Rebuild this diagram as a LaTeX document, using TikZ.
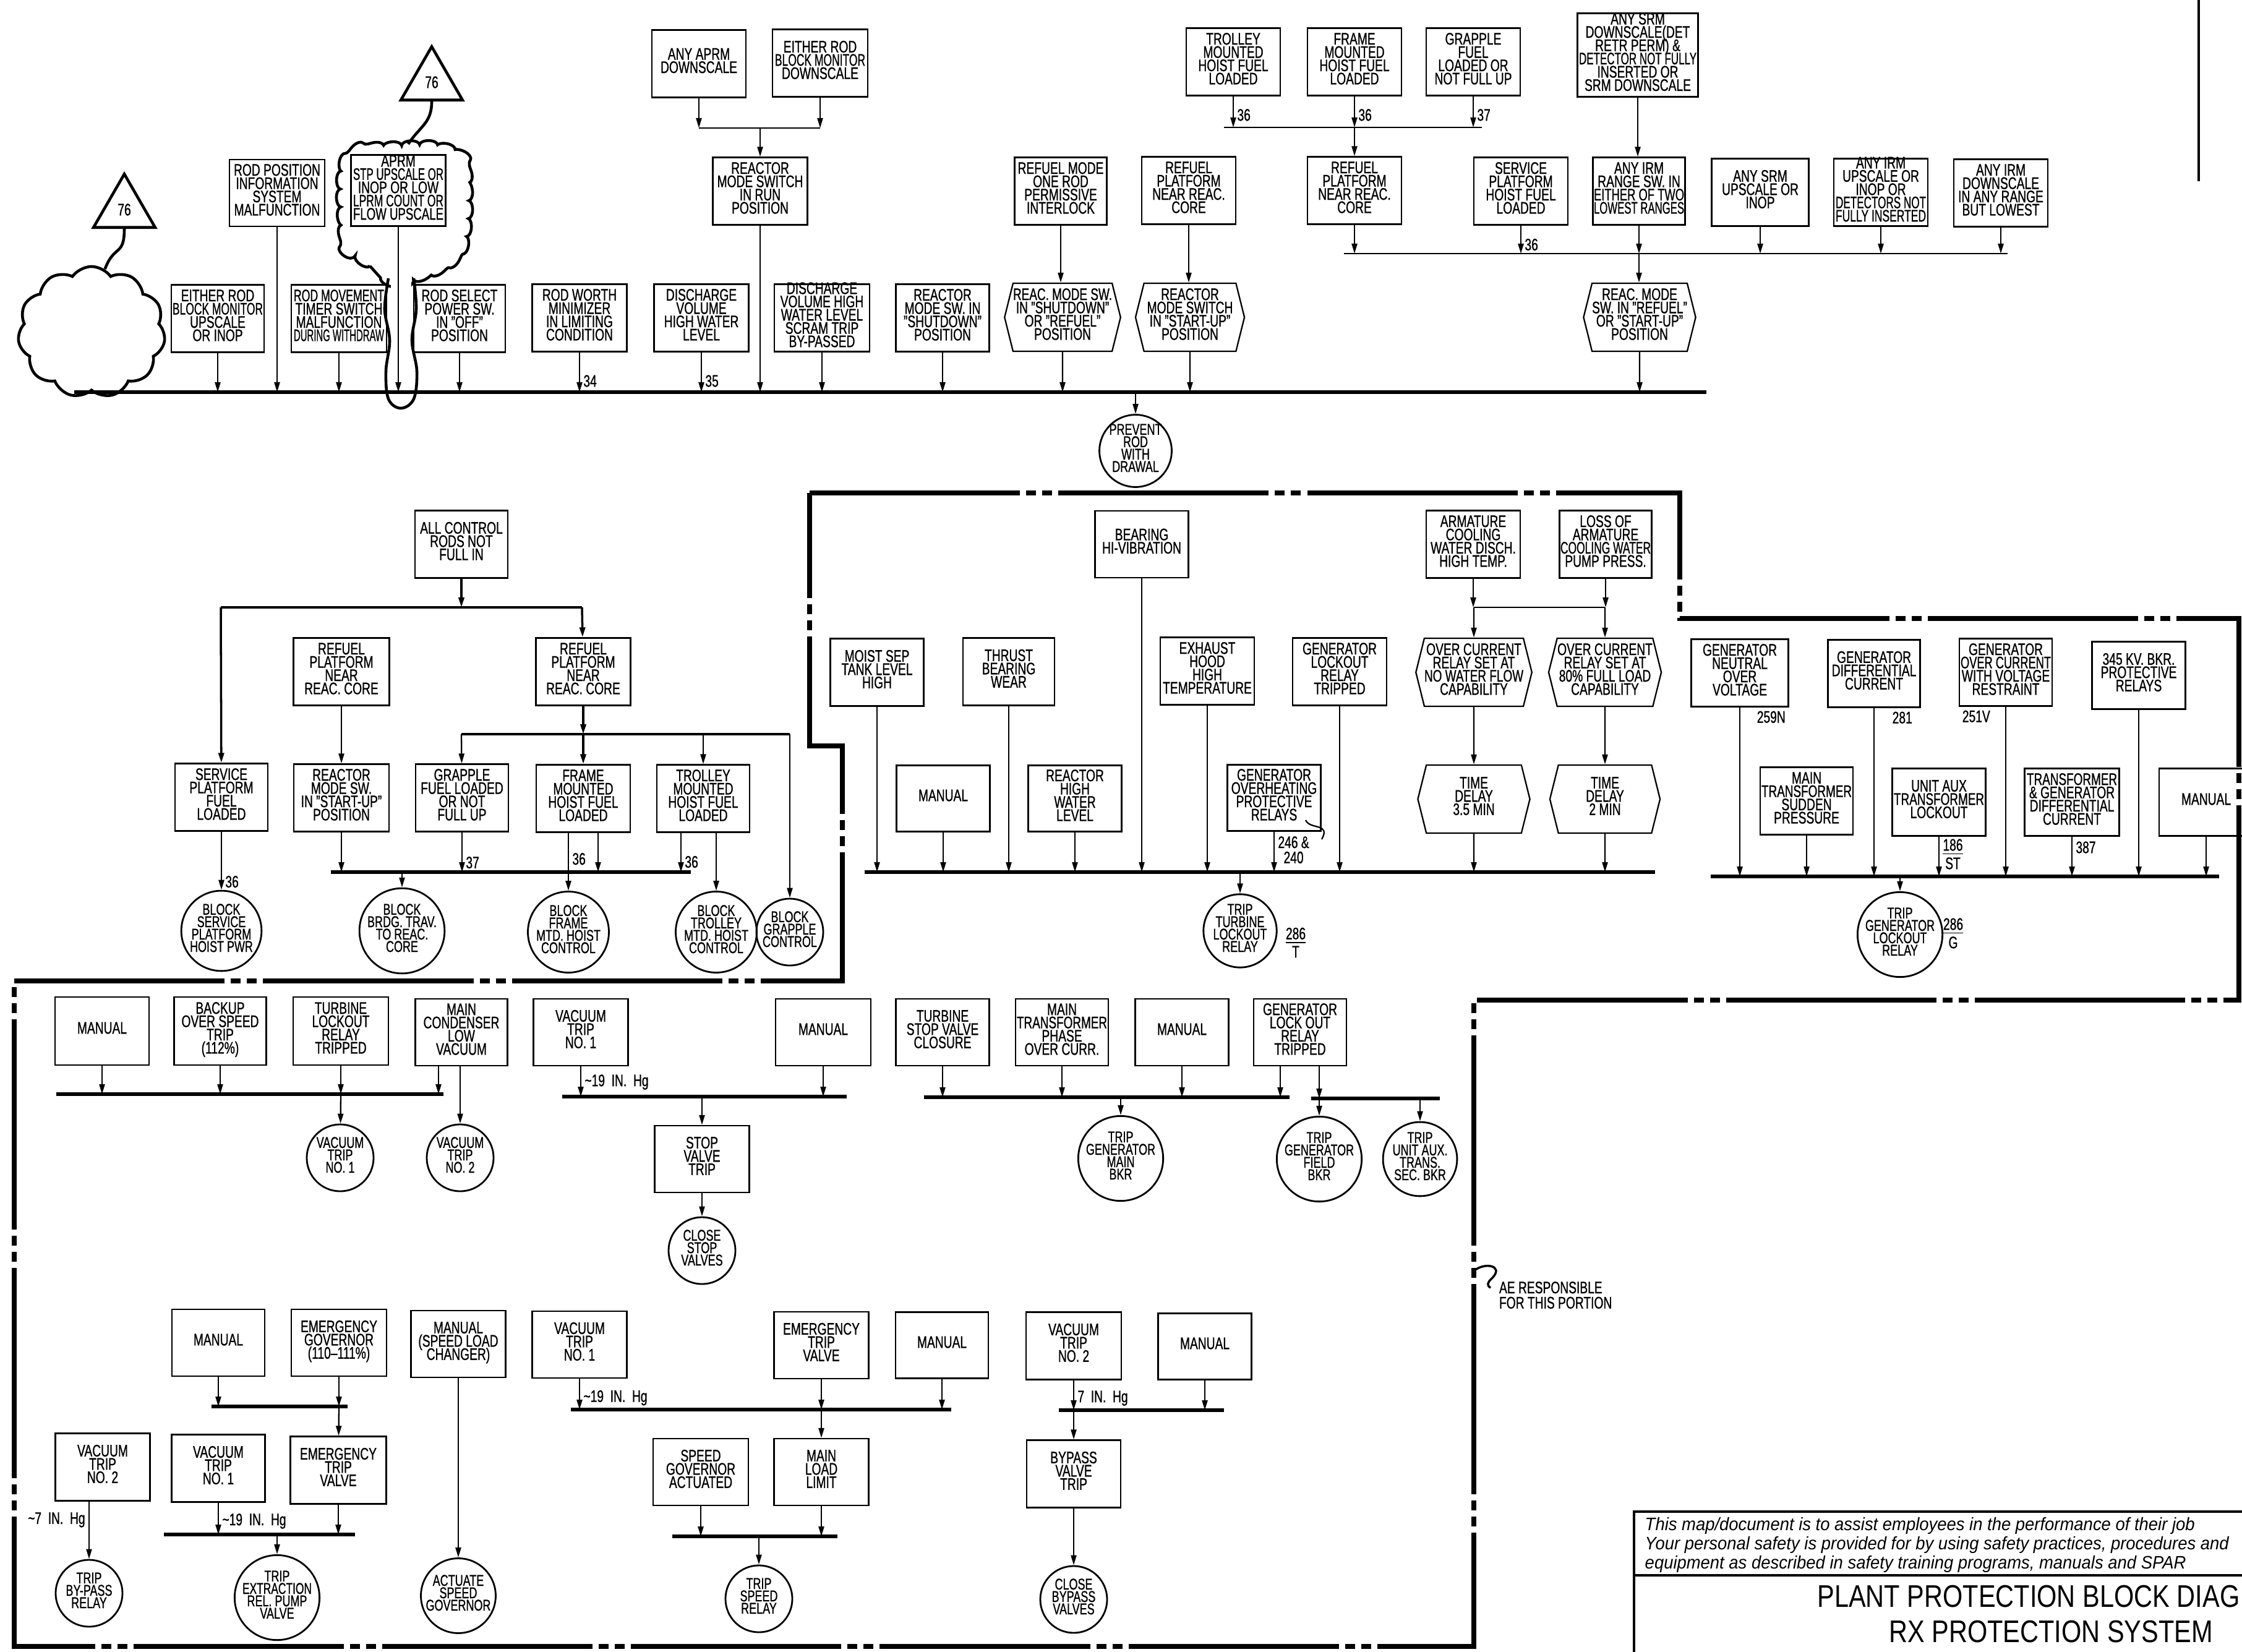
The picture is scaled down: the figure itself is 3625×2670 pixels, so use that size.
\documentclass[tikz,border=0pt]{standalone}
\usepackage{fontspec}
\setmainfont{Liberation Sans}[FakeStretch=0.71, FakeBold=0.9]
\newfontfamily\discfont{Liberation Sans}[FakeStretch=0.94]
\newfontfamily\ttlfont{Liberation Sans}[FakeStretch=0.82]
\usepackage{array,graphicx}
\usetikzlibrary{arrows.meta,positioning,shapes.geometric,shapes.symbols,decorations.pathmorphing}

\newsavebox\fitbox
\newlength\maxw
\newcommand\fitout{\ifdim\wd\fitbox>\maxw\sbox\fitbox{\resizebox{\maxw}{\height}{\usebox\fitbox}}\fi\ht\fitbox=0pt\dp\fitbox=0pt\usebox\fitbox}
\newcolumntype{F}{>{\begin{lrbox}{\fitbox}}c<{\end{lrbox}\fitout}}
\newcommand\ft[1]{\begin{tabular}{@{}F@{}}#1\end{tabular}}
\newcommand\bxf{\fontsize{7.7}{6.1}\selectfont}
\newcommand\rlf{\fontsize{7.2}{5.7}\selectfont}
\newcommand\lbf{\fontsize{7.7}{7}\selectfont}

\begin{document}
\begin{tikzpicture}[x=0.01cm, y=-0.01cm, >={Triangle[length=1.6mm,width=0.9mm]},
  fw/.store in=\fitw, fw=1.46cm,
  tb/.style={execute at begin node={\setlength\maxw{\fitw}}},
  bx/.style={tb, draw, line width=.65pt, minimum width=1.52cm, minimum height=1.09cm, inner sep=0pt, font=\bxf, fw=1.46cm},
  hx/.style={tb, draw, line width=.65pt, signal, signal to=west and east, signal pointer angle=152, minimum width=1.8cm, minimum height=1.1cm, inner sep=0pt, font=\bxf, fw=1.6cm},
  rl/.style={tb, circle, draw, line width=.8pt, minimum size=1.08cm, inner sep=0pt, font=\rlf, fw=1.12cm},
  tri/.style={regular polygon, regular polygon sides=3, draw, line width=1.3pt, minimum size=1.15cm, inner sep=0pt, font=\lbf},
  e/.style={->, line width=.65pt},
  eb/.style={->, line width=1pt},
  bus/.style={line width=1.8pt},
  jn/.style={line width=.65pt},
  lb/.style={font=\lbf, inner sep=1.5pt},
  cld/.style={line width=1.3pt},
  bnd/.style={line width=2.2pt, dash pattern=on 3.4cm off 0.1cm on 0.16cm off 0.1cm on 0.16cm off 0.1cm}]
\useasboundingbox (0,0) rectangle (3625,2670);

% rod block
\node[tri] (ta) at (201,339) {76};
\node[tri] (tc) at (698,133) {76};
\node[cloud, draw, cld, cloud puffs=11, cloud puff arc=110, cloud ignores aspect, minimum width=2.38cm, minimum height=2.12cm] (cl) at (148,537) {};
\coordinate (kh) at (660,233);
\draw[cld, decorate, decoration={bumps, segment length=0.58cm, amplitude=0.07cm}] plot[smooth cycle, tension=0.55] coordinates {(628,452) (598,430) (562,405) (552,340) (554,272) (578,243) (640,236) (705,236) (748,256) (757,322) (750,395) (722,428) (669,452) (648,462)};
\fill[white] (632,446) rectangle (665,500);
\draw[cld] plot[smooth, tension=0.6] coordinates {(628,450) (622,500) (630,550) (624,600) (628,645) (648,660) (669,645) (674,600) (666,550) (673,500) (669,450)};
\draw[cld] (ta.south) .. controls +(0,45) and +(15,-40) .. (cl.78);
\draw[cld] (tc.south) .. controls +(0,35) and +(20,-30) .. (kh);

\node[bx, minimum width=1.50cm] (ersu) at (352,515) {\ft{EITHER ROD\\BLOCK MONITOR\\UPSCALE\\OR INOP}};
\node[bx, minimum width=1.54cm, minimum height=1.08cm] (rpis) at (448,312) {\ft{ROD POSITION\\INFORMATION\\SYSTEM\\MALFUNCTION}};
\node[bx, minimum width=1.54cm] (rmts) at (548,515) {\ft{ROD MOVEMENT\\TIMER SWITCH\\MALFUNCTION\\DURING WITHDRAW}};
\node[bx, minimum width=1.53cm, minimum height=1.15cm] (aprm) at (644,308) {\ft{APRM\\STP UPSCALE OR\\INOP OR LOW\\LPRM COUNT OR\\FLOW UPSCALE}};
\node[bx, minimum width=1.48cm] (rsps) at (743,515) {\ft{ROD SELECT\\POWER SW.\\IN ''OFF''\\POSITION}};
\node[bx, minimum width=1.53cm] (rwm) at (937,514) {\ft{ROD WORTH\\MINIMIZER\\IN LIMITING\\CONDITION}};
\node[bx] (aad) at (1130,103) {\ft{ANY APRM\\DOWNSCALE}};
\node[bx, minimum width=1.54cm] (erbd) at (1326,102) {\ft{EITHER ROD\\BLOCK MONITOR\\DOWNSCALE}};
\node[bx, minimum width=1.53cm] (rmrun) at (1229,309) {\ft{REACTOR\\MODE SWITCH\\IN RUN\\POSITION}};
\node[bx, minimum width=1.53cm] (dvhw) at (1134,514) {\ft{DISCHARGE\\VOLUME\\HIGH WATER\\LEVEL}};
\node[bx, minimum width=1.54cm] (dvbp) at (1329,514) {\ft{DISCHARGE\\VOLUME HIGH\\WATER LEVEL\\SCRAM TRIP\\BY-PASSED}};
\node[bx, minimum width=1.51cm] (rmsd) at (1524,514) {\ft{REACTOR\\MODE SW. IN\\''SHUTDOWN''\\POSITION}};
\node[bx, minimum width=1.49cm] (rfmi) at (1715,309) {\ft{REFUEL MODE\\ONE ROD\\PERMISSIVE\\INTERLOCK}};
\node[hx, minimum width=1.79cm] (hsr) at (1718,513) {\ft{REAC. MODE SW.\\IN ''SHUTDOWN''\\OR ''REFUEL''\\POSITION}};
\node[rl] (prw) at (1836,729) {\ft{PREVENT\\ROD\\WITH\\DRAWAL}};
\node[bx] (tmh) at (1994,100) {\ft{TROLLEY\\MOUNTED\\HOIST FUEL\\LOADED}};
\node[bx] (fmh) at (2190,100) {\ft{FRAME\\MOUNTED\\HOIST FUEL\\LOADED}};
\node[bx] (gfl) at (2382,100) {\ft{GRAPPLE\\FUEL\\LOADED OR\\NOT FULL UP}};
\node[bx] (rpa) at (1922,308) {\ft{REFUEL\\PLATFORM\\NEAR REAC.\\CORE}};
\node[bx] (rpb) at (2190,308) {\ft{REFUEL\\PLATFORM\\NEAR REAC.\\CORE}};
\node[hx, minimum width=1.76cm] (hsu) at (1924,513) {\ft{REACTOR\\MODE SWITCH\\IN ''START-UP''\\POSITION}};
\node[bx] (sph) at (2459,309) {\ft{SERVICE\\PLATFORM\\HOIST FUEL\\LOADED}};
\node[bx, minimum width=1.95cm, minimum height=1.35cm, fw=1.9cm] (srmd) at (2648,89) {\ft{ANY SRM\\DOWNSCALE(DET\\RETR PERM) \&\\DETECTOR NOT FULLY\\INSERTED OR\\SRM DOWNSCALE}};
\node[bx, minimum width=1.49cm] (irmr) at (2650,309) {\ft{ANY IRM\\RANGE SW. IN\\EITHER OF TWO\\LOWEST RANGES}};
\node[hx, minimum width=1.78cm] (hrs) at (2651,513) {\ft{REAC. MODE\\SW. IN ''REFUEL''\\OR ''START-UP''\\POSITION}};
\node[bx, minimum width=1.57cm] (srmu) at (2846,311) {\ft{ANY SRM\\UPSCALE OR\\INOP}};
\node[bx] (irmu) at (3041,311) {\ft{ANY IRM\\UPSCALE OR\\INOP OR\\DETECTORS NOT\\FULLY INSERTED}};
\node[bx] (irmd) at (3235,312) {\ft{ANY IRM\\DOWNSCALE\\IN ANY RANGE\\BUT LOWEST}};

\coordinate (b1a) at (120,634); \coordinate (b1b) at (2759,634);
\coordinate (ja) at (1130,207); \coordinate (jb) at (1326,207);
\coordinate (jc) at (1979,206); \coordinate (jd) at (2396,206);
\coordinate (je) at (2173,410); \coordinate (jf) at (3246,410);
\draw[bus] (b1a) -- (b1b);
\draw[jn] (ja) -- (jb); \draw[jn] (jc) -- (jd); \draw[jn] (je) -- (jf);
\foreach \n in {ersu,rpis,rmts,aprm,rsps,rmrun,dvbp,rmsd,hsr,hsu,hrs} \draw[e] (\n) -- (\n |- b1a);
\draw[e] (rwm) -- (rwm |- b1a) node[lb, right, pos=.72] {34};
\draw[e] (dvhw) -- (dvhw |- b1a) node[lb, right, pos=.72] {35};
\draw[e] (aad) -- (aad |- ja); \draw[e] (erbd) -- (erbd |- ja);
\draw[e] (rmrun |- ja) -- (rmrun);
\draw[e] (rfmi) -- (rfmi |- hsr.north);
\draw[e] (prw |- b1a) -- (prw);
\draw[e] (tmh) -- (tmh |- jc) node[lb, right, pos=.6] {36};
\draw[e] (fmh) -- (fmh |- jc) node[lb, right, pos=.6] {36};
\draw[e] (gfl) -- (gfl |- jc) node[lb, right, pos=.6] {37};
\draw[e] (fmh |- jc) -- (rpb);
\draw[e] (rpa) -- (rpa |- hsu.north);
\draw[e] (rpb) -- (rpb |- je);
\draw[e] (sph) -- (sph |- je) node[lb, right, pos=.68] {36};
\draw[e] (srmd) -- (srmd |- irmr.north);
\draw[e] (irmr) -- (irmr |- je);
\draw[e] (irmr |- je) -- (irmr |- hrs.north);
\foreach \n in {srmu,irmu,irmd} \draw[e] (\n) -- (\n |- je);

% refuel block
\node[bx, minimum width=1.50cm] (acr) at (746,880) {\ft{ALL CONTROL\\RODS NOT\\FULL IN}};
\node[bx, minimum width=1.50cm] (spf) at (358,1289) {\ft{SERVICE\\PLATFORM\\FUEL\\LOADED}};
\node[bx, minimum width=1.55cm] (rpc) at (552,1086) {\ft{REFUEL\\PLATFORM\\NEAR\\REAC. CORE}};
\node[bx, minimum width=1.53cm] (rpd) at (943,1086) {\ft{REFUEL\\PLATFORM\\NEAR\\REAC. CORE}};
\node[bx, minimum width=1.54cm] (rmsu) at (552,1290) {\ft{REACTOR\\MODE SW.\\IN ''START-UP''\\POSITION}};
\node[bx, minimum width=1.50cm] (gfb) at (747,1290) {\ft{GRAPPLE\\FUEL LOADED\\OR NOT\\FULL UP}};
\node[bx] (fmb) at (943,1291) {\ft{FRAME\\MOUNTED\\HOIST FUEL\\LOADED}};
\node[bx, minimum width=1.50cm] (tmb) at (1137,1291) {\ft{TROLLEY\\MOUNTED\\HOIST FUEL\\LOADED}};
\node[rl] (bsp) at (358,1505) {\ft{BLOCK\\SERVICE\\PLATFORM\\HOIST PWR}};
\node[rl] (bbt) at (650,1505) {\ft{BLOCK\\BRDG. TRAV.\\TO REAC.\\CORE}};
\node[rl] (bfm) at (919,1507) {\ft{BLOCK\\FRAME\\MTD. HOIST\\CONTROL}};
\node[rl] (btm) at (1158,1507) {\ft{BLOCK\\TROLLEY\\MTD. HOIST\\CONTROL}};
\node[rl] (bgc) at (1277,1507) {\ft{BLOCK\\GRAPPLE\\CONTROL}};
\coordinate (ra) at (357,982); \coordinate (rb) at (941,982);
\coordinate (rc) at (746,1187); \coordinate (rd) at (1277,1187);
\coordinate (re) at (535,1410); \coordinate (rf) at (1117,1410);
\draw[line width=1pt] (ra) -- (rb);
\draw[eb] (acr) -- (acr |- ra);
\draw[eb] (ra) -- (spf);
\draw[eb] (rb) -- (rpd);
\draw[line width=1pt] (rc) -- (rd);
\draw[eb] (rpd) -- (rpd |- rc);
\draw[eb] (rpd |- rc) -- (fmb);
\draw[e] (rc) -- (gfb);
\draw[e] (tmb |- rc) -- (tmb);
\draw[e] (rd) -- (bgc);
\draw[e] (rpc) -- (rmsu);
\draw[bus] (re) -- (rf);
\draw[e] (rmsu) -- (rmsu |- re);
\draw[e] (gfb) -- (gfb |- re) node[lb, right, pos=.76] {37};
\draw[e] ([xshift=.24cm]fmb.south) -- ([xshift=.24cm]fmb.south |- re);
\draw[e] (bfm |- fmb.south) -- (bfm) node[lb, right, pos=.45] {36};
\draw[e] ([xshift=-.36cm]tmb.south) -- ([xshift=-.36cm]tmb.south |- re) node[lb, right, pos=.74] {36};
\draw[e] (btm |- tmb.south) -- (btm);
\draw[e] (bbt |- re) -- (bbt);
\draw[e] (spf) -- (bsp) node[lb, right, pos=.86] {36};

% turbine trips
\node[bx, minimum width=1.51cm, minimum height=1.08cm] (bhv) at (1846,880) {\ft{BEARING\\HI-VIBRATION}};
\node[bx, minimum width=1.51cm] (msl) at (1418,1087) {\ft{MOIST SEP\\TANK LEVEL\\HIGH}};
\node[bx, minimum width=1.48cm] (tbw) at (1631,1086) {\ft{THRUST\\BEARING\\WEAR}};
\node[bx, minimum width=1.51cm, minimum height=1.07cm] (mna) at (1525,1291) {\ft{MANUAL}};
\node[bx, minimum width=1.51cm, minimum height=1.07cm] (rhw) at (1738,1291) {\ft{REACTOR\\HIGH\\WATER\\LEVEL}};
\node[bx] (ehh) at (1952,1085) {\ft{EXHAUST\\HOOD\\HIGH\\TEMPERATURE}};
\node[bx] (glr) at (2166,1086) {\ft{GENERATOR\\LOCKOUT\\RELAY\\TRIPPED}};
\node[bx, minimum width=1.51cm, minimum height=1.07cm] (goh) at (2060,1290) {\ft{GENERATOR\\OVERHEATING\\PROTECTIVE\\RELAYS}};
\node[bx] (acw) at (2382,880) {\ft{ARMATURE\\COOLING\\WATER DISCH.\\HIGH TEMP.}};
\node[bx, minimum width=1.49cm] (lac) at (2596,880) {\ft{LOSS OF\\ARMATURE\\COOLING WATER\\PUMP PRESS.}};
\node[hx, minimum width=1.82cm] (hoa) at (2383,1087) {\ft{OVER CURRENT\\RELAY SET AT\\NO WATER FLOW\\CAPABILITY}};
\node[hx, minimum width=1.82cm] (hob) at (2595,1087) {\ft{OVER CURRENT\\RELAY SET AT\\80\% FULL LOAD\\CAPABILITY}};
\node[hx, minimum width=1.81cm] (hta) at (2383,1292) {\ft{TIME\\DELAY\\3.5 MIN}};
\node[hx, minimum width=1.78cm] (htb) at (2595,1292) {\ft{TIME\\DELAY\\2 MIN}};
\node[rl, minimum size=1.04cm] (ttl) at (2005,1505) {\ft{TRIP\\TURBINE\\LOCKOUT\\RELAY}};
\node[lb, align=center] (nt) at (2095,1524) {\underline{286}\\T};
\coordinate (b2a) at (1398,1410); \coordinate (b2b) at (2676,1410);
\coordinate (jg) at (2383,982); \coordinate (jh) at (2595,982);
\draw[bus] (b2a) -- (b2b);
\foreach \n in {bhv,msl,tbw,mna,rhw,ehh,glr,hta,htb} \draw[e] (\n) -- (\n |- b2a);
\draw[e] (goh) -- (goh |- b2a) node[lb, right, pos=.45, align=center] {246 \&\\240};
\draw[e] (acw) -- (acw |- jg); \draw[e] (lac) -- (lac |- jg);
\draw[jn] (jg) -- (jh);
\draw[e] (jg) -- (hoa); \draw[e] (jh) -- (hob);
\draw[e] (hoa) -- (hta); \draw[e] (hob) -- (htb);
\draw[e] (ttl |- b2a) -- (ttl);
\coordinate (sqa) at (2111,1326); \coordinate (sqb) at (2137,1357);
\draw[jn] (sqa) .. controls (2118,1342) and (2152,1330) .. (sqb);

% generator trips
\node[bx, minimum width=1.57cm] (gnv) at (2813,1088) {\ft{GENERATOR\\NEUTRAL\\OVER\\VOLTAGE}};
\node[bx, minimum width=1.49cm] (gdc) at (3030,1089) {\ft{GENERATOR\\DIFFERENTIAL\\CURRENT}};
\node[bx, minimum width=1.50cm] (goc) at (3243,1087) {\ft{GENERATOR\\OVER CURRENT\\WITH VOLTAGE\\RESTRAINT}};
\node[bx, minimum width=1.51cm] (kvb) at (3458,1092) {\ft{345 KV. BKR.\\PROTECTIVE\\RELAYS}};
\node[bx, minimum width=1.50cm] (mts) at (2921,1295) {\ft{MAIN\\TRANSFORMER\\SUDDEN\\PRESSURE}};
\node[bx, minimum width=1.51cm] (uat) at (3135,1297) {\ft{UNIT AUX\\TRANSFORMER\\LOCKOUT}};
\node[bx, minimum width=1.53cm] (tgd) at (3350,1297) {\ft{TRANSFORMER\\\& GENERATOR\\DIFFERENTIAL\\CURRENT}};
\node[bx] (mnb) at (3567,1297) {\ft{MANUAL}};
\node[rl, minimum size=1.04cm] (tgl) at (3072,1511) {\ft{TRIP\\GENERATOR\\LOCKOUT\\RELAY}};
\node[lb, align=center] (ng) at (3158,1509) {\underline{286}\\G};
\node[lb, anchor=north east] at (gnv.south east) {259N};
\node[lb, anchor=north east] at ([xshift=-.08cm]gdc.south east) {281};
\node[lb, anchor=north west] at (goc.south west) {251V};
\coordinate (b3a) at (2766,1417); \coordinate (b3b) at (3588,1417);
\draw[bus] (b3a) -- (b3b);
\foreach \n in {gnv,gdc,goc,kvb,mts,mnb} \draw[e] (\n) -- (\n |- b3a);
\draw[e] (uat) -- (uat |- b3a) node[lb, right, pos=.44, align=center] {\underline{186}\\ST};
\draw[e] (tgd) -- (tgd |- b3a) node[lb, right, pos=.27] {387};
\draw[e] (tgl |- b3a) -- (tgl);

% turbine section
\node[bx, minimum height=1.10cm] (mnc) at (165,1667) {\ft{MANUAL}};
\node[bx, minimum width=1.49cm, minimum height=1.10cm] (bos) at (356,1667) {\ft{BACKUP\\OVER SPEED\\TRIP\\(112\%)}};
\node[bx, minimum width=1.54cm, minimum height=1.10cm] (tlr) at (551,1667) {\ft{TURBINE\\LOCKOUT\\RELAY\\TRIPPED}};
\node[bx, minimum width=1.49cm, minimum height=1.08cm] (mcv) at (746,1669) {\ft{MAIN\\CONDENSER\\LOW\\VACUUM}};
\node[rl] (vta) at (550,1872) {\ft{VACUUM\\TRIP\\NO. 1}};
\node[rl] (vtb) at (744,1872) {\ft{VACUUM\\TRIP\\NO. 2}};
\coordinate (b4a) at (91,1769); \coordinate (b4b) at (717,1769);
\draw[bus] (b4a) -- (b4b);
\foreach \n in {mnc,bos,tlr} \draw[e] (\n) -- (\n |- b4a);
\draw[e] (tlr |- b4a) -- (vta);
\draw[e] ([xshift=-.37cm]mcv.south) -- ([xshift=-.37cm]mcv.south |- b4a);
\draw[e] (vtb |- mcv.south) -- (vtb);

\node[bx, minimum width=1.53cm, minimum height=1.08cm] (vtc) at (939,1669) {\ft{VACUUM\\TRIP\\NO. 1}};
\node[bx, minimum width=1.54cm, minimum height=1.08cm] (mnd) at (1331,1669) {\ft{MANUAL}};
\node[bx, minimum width=1.53cm, minimum height=1.08cm] (svt) at (1135,1874) {\ft{STOP\\VALVE\\TRIP}};
\node[rl] (csv) at (1135,2022) {\ft{CLOSE\\STOP\\VALVES}};
\coordinate (b5a) at (909,1773); \coordinate (b5b) at (1369,1773);
\draw[bus] (b5a) -- (b5b);
\draw[e] (vtc) -- (vtc |- b5a) node[lb, right, pos=.52] {\textasciitilde19\ \ IN.\ \ Hg};
\draw[e] (mnd) -- (mnd |- b5a);
\draw[e] (svt |- b5a) -- (svt);
\draw[e] (svt) -- (csv);

\node[bx, minimum width=1.51cm, minimum height=1.08cm] (tsv) at (1524,1669) {\ft{TURBINE\\STOP VALVE\\CLOSURE}};
\node[bx, minimum width=1.50cm, minimum height=1.08cm] (mtp) at (1717,1669) {\ft{MAIN\\TRANSFORMER\\PHASE\\OVER CURR.}};
\node[bx, minimum width=1.51cm, minimum height=1.08cm] (mne) at (1911,1669) {\ft{MANUAL}};
\node[bx, minimum width=1.50cm, minimum height=1.08cm] (glo) at (2102,1669) {\ft{GENERATOR\\LOCK OUT\\RELAY\\TRIPPED}};
\node[rl] (tgm) at (1812,1873) {\ft{TRIP\\GENERATOR\\MAIN\\BKR}};
\node[rl] (tgf) at (2133,1874) {\ft{TRIP\\GENERATOR\\FIELD\\BKR}};
\node[rl, minimum size=1.10cm] (tua) at (2296,1874) {\ft{TRIP\\UNIT AUX.\\TRANS.\\SEC. BKR}};
\coordinate (b6a) at (1494,1774); \coordinate (b6b) at (2085,1774);
\coordinate (b7a) at (2120,1776); \coordinate (b7b) at (2328,1776);
\draw[bus] (b6a) -- (b6b); \draw[bus] (b7a) -- (b7b);
\foreach \n in {tsv,mtp,mne} \draw[e] (\n) -- (\n |- b6a);
\draw[e] ([xshift=-.32cm]glo.south) -- ([xshift=-.32cm]glo.south |- b6a);
\draw[e] (tgf |- glo.south) -- (tgf |- b7a);
\draw[e] (tgf |- b7a) -- (tgf);
\draw[e] (tua |- b7a) -- (tua);
\draw[e] (tgm |- b6a) -- (tgm);

\node[bx, minimum width=1.50cm, minimum height=1.08cm] (mnf) at (353,2171) {\ft{MANUAL}};
\node[bx, minimum width=1.54cm, minimum height=1.08cm] (egv) at (548,2171) {\ft{EMERGENCY\\GOVERNOR\\(110--111\%)}};
\node[bx, minimum width=1.55cm] (etv) at (547,2377) {\ft{EMERGENCY\\TRIP\\VALVE}};
\node[bx, minimum width=1.53cm, minimum height=1.08cm] (mlc) at (741,2173) {\ft{MANUAL\\(SPEED LOAD\\CHANGER)}};
\node[rl] (asg) at (741,2580) {\ft{ACTUATE\\SPEED\\GOVERNOR}};
\node[bx, minimum width=1.53cm] (vtd) at (166,2372) {\ft{VACUUM\\TRIP\\NO. 2}};
\node[rl] (tbp) at (144,2576) {\ft{TRIP\\BY-PASS\\RELAY}};
\node[bx, minimum width=1.51cm] (vte) at (353,2374) {\ft{VACUUM\\TRIP\\NO. 1}};
\node[rl, minimum size=1.1cm] (tep) at (448,2583) {\ft{TRIP\\EXTRACTION\\REL. PUMP\\VALVE}};
\coordinate (b8a) at (342,2274); \coordinate (b8b) at (562,2274);
\coordinate (b9a) at (265,2481); \coordinate (b9b) at (574,2481);
\draw[bus] (b8a) -- (b8b); \draw[bus] (b9a) -- (b9b);
\draw[e] (mnf) -- (mnf |- b8a); \draw[e] (egv) -- (egv |- b8a);
\draw[e] (egv |- b8a) -- (etv);
\draw[e] (mlc) -- (asg);
\draw[e] (tbp |- vtd.south) -- (tbp) node[lb, left, pos=.32] {\textasciitilde7\ \ IN.\ \ Hg};
\draw[e] (vte) -- (vte |- b9a) node[lb, right, pos=.58] {\textasciitilde19\ \ IN.\ \ Hg};
\draw[e] (etv) -- (etv |- b9a);
\draw[e] (tep |- b9a) -- (tep);

\node[bx, minimum width=1.53cm, minimum height=1.08cm] (vtf) at (937,2174) {\ft{VACUUM\\TRIP\\NO. 1}};
\node[bx, minimum width=1.53cm, minimum height=1.08cm] (etw) at (1328,2175) {\ft{EMERGENCY\\TRIP\\VALVE}};
\node[bx, minimum width=1.50cm, minimum height=1.07cm] (mng) at (1523,2175) {\ft{MANUAL}};
\node[bx, minimum width=1.54cm, minimum height=1.08cm] (sga) at (1133,2380) {\ft{SPEED\\GOVERNOR\\ACTUATED}};
\node[bx, minimum width=1.53cm, minimum height=1.08cm] (mll) at (1328,2380) {\ft{MAIN\\LOAD\\LIMIT}};
\node[rl] (tsr) at (1227,2585) {\ft{TRIP\\SPEED\\RELAY}};
\coordinate (b10a) at (923,2279); \coordinate (b10b) at (1538,2279);
\coordinate (b11a) at (1087,2484); \coordinate (b11b) at (1354,2484);
\draw[bus] (b10a) -- (b10b); \draw[bus] (b11a) -- (b11b);
\draw[e] (vtf) -- (vtf |- b10a) node[lb, right, pos=.62] {\textasciitilde19\ \ IN.\ \ Hg};
\draw[e] (etw) -- (etw |- b10a); \draw[e] (mng) -- (mng |- b10a);
\draw[e] (etw |- b10a) -- (mll);
\draw[e] (sga) -- (sga |- b11a); \draw[e] (mll) -- (mll |- b11a);
\draw[e] (tsr |- b11a) -- (tsr);

\node[bx, minimum width=1.54cm] (vtg) at (1736,2176) {\ft{VACUUM\\TRIP\\NO. 2}};
\node[bx, minimum width=1.51cm, minimum height=1.07cm] (mnh) at (1948,2177) {\ft{MANUAL}};
\node[bx, minimum width=1.52cm] (bvt) at (1736,2383) {\ft{BYPASS\\VALVE\\TRIP}};
\node[rl] (cbv) at (1736,2586) {\ft{CLOSE\\BYPASS\\VALVES}};
\coordinate (b12a) at (1712,2280); \coordinate (b12b) at (1979,2280);
\draw[bus] (b12a) -- (b12b);
\draw[e] (vtg) -- (vtg |- b12a) node[lb, right, pos=.6] {7\ \ IN.\ \ Hg};
\draw[e] (mnh) -- (mnh |- b12a);
\draw[e] (vtg |- b12a) -- (bvt);
\draw[e] (bvt) -- (cbv);

% boundary and notes
\draw[bnd] (1309,797) -- (2716,797) -- (2716,1000) -- (3620,1000) -- (3620,1617) -- (2383,1617) -- (2383,2662) -- (23,2662) -- (23,1586) -- (1362,1586) -- (1362,1206) -- (1309,1206) -- cycle;
\draw[line width=1pt] (3555,0) -- (3555,293);
\coordinate (ae) at (2383,2055); \coordinate (aet) at (2410,2082);
\node[lb, anchor=west, align=left] (aen) at (2418,2094) {AE RESPONSIBLE\\FOR THIS PORTION};
\draw[line width=1pt] (ae) .. controls (2400,2040) and (2432,2046) .. (2413,2066) .. controls (2404,2074) and (2404,2079) .. (aet);

\draw[line width=.9pt] (2642,2720) -- (2642,2444) -- (3700,2444);
\draw[line width=.9pt] (2642,2547) -- (3700,2547);
\node[anchor=west, align=left, inner sep=0pt, font=\discfont\itshape\fontsize{8.3}{8.8}\selectfont] (dsc) at (2659,2498) {This map/document is to assist employees in the performance of their job\\Your personal safety is provided for by using safety practices, procedures and\\equipment as described in safety training programs, manuals and SPAR};
\node[anchor=east, inner sep=0pt, font=\ttlfont\fontsize{14.4}{16}\selectfont] (tt1) at (3622,2581) {PLANT PROTECTION BLOCK DIAG};
\node[inner sep=0pt, font=\ttlfont\fontsize{14.4}{16}\selectfont] (tt2) at (3316,2638) {RX PROTECTION SYSTEM};
\end{tikzpicture}
\end{document}
